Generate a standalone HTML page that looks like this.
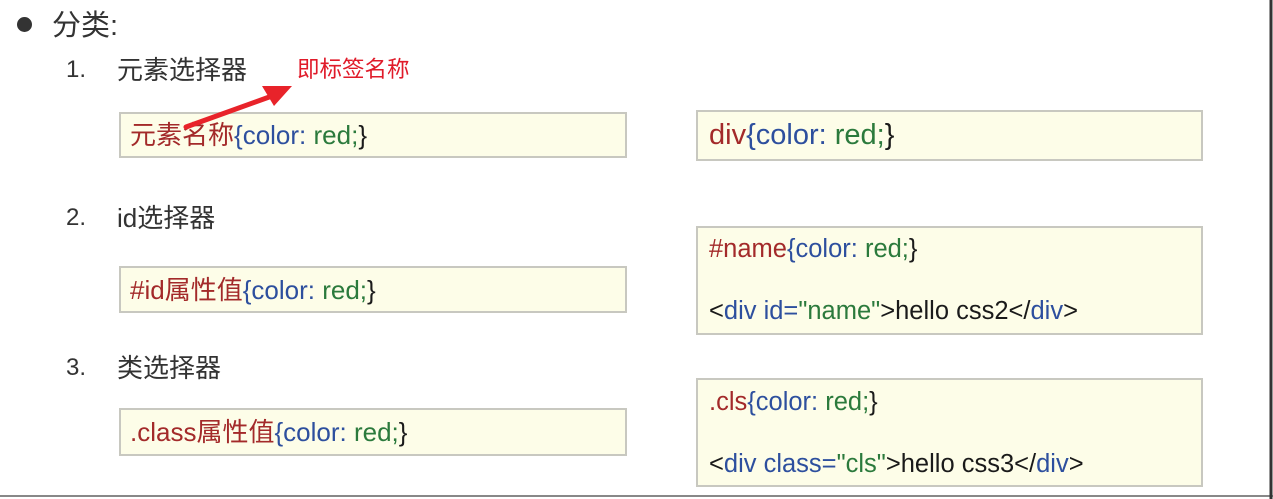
<!DOCTYPE html>
<html><head><meta charset="utf-8"><style>
body{margin:0;width:1273px;height:499px;background:#fff;position:relative;overflow:hidden;font-family:"Liberation Sans","Noto Sans CJK SC",sans-serif;color:#222}
.a{position:absolute;white-space:nowrap;line-height:1}
.box{position:absolute;background:#fdfde8;border:2px solid #c8c8c0;box-sizing:border-box}
.r{color:#a32a2a}.b{color:#2d4f9e}.g{color:#2b7a3c}.k{color:#1a1a1a}
.t{font-size:26px}
</style></head><body>
<div class="a" style="left:17px;top:17px;width:15px;height:15px;border-radius:50%;background:#333"></div>
<div class="a" style="left:52px;top:12px;font-size:29px;color:#333">分类:</div>
<div class="a" style="left:66px;top:58px;font-size:24px;color:#333">1.</div>
<div class="a" style="left:117px;top:57px;font-size:26px;color:#333">元素选择器</div>
<div class="a" style="left:297px;top:59px;font-size:22.5px;color:#e01b2a">即标签名称</div>
<div class="a" style="left:66px;top:206px;font-size:24px;color:#333">2.</div>
<div class="a" style="left:117px;top:205px;font-size:26px;color:#333">id选择器</div>
<div class="a" style="left:66px;top:356px;font-size:24px;color:#333">3.</div>
<div class="a" style="left:117px;top:355px;font-size:26px;color:#333">类选择器</div>

<div class="box" style="left:119px;top:112px;width:508px;height:46px"></div>
<div class="a t" style="left:130px;top:122px"><span class="r">元素名称</span><span class="b">{color:</span> <span class="g">red;</span><span class="k">}</span></div>
<div class="box" style="left:119px;top:266px;width:508px;height:47px"></div>
<div class="a t" style="left:130px;top:277px"><span class="r">#id属性值</span><span class="b">{color:</span> <span class="g">red;</span><span class="k">}</span></div>
<div class="box" style="left:119px;top:408px;width:508px;height:48px"></div>
<div class="a t" style="left:130px;top:419px"><span class="r">.class属性值</span><span class="b">{color:</span> <span class="g">red;</span><span class="k">}</span></div>

<div class="box" style="left:696px;top:110px;width:507px;height:51px"></div>
<div class="a" style="left:709px;top:121px;font-size:29px"><span class="r">div</span><span class="b">{color:</span> <span class="g">red;</span><span class="k">}</span></div>
<div class="box" style="left:696px;top:226px;width:507px;height:109px"></div>
<div class="a" style="left:709px;top:237px;font-size:25.5px"><span class="r">#name</span><span class="b">{color:</span> <span class="g">red;</span><span class="k">}</span></div>
<div class="a" style="left:709px;top:299px;font-size:25.5px"><span class="k">&lt;</span><span class="b">div id=</span><span class="g">"name"</span><span class="k">&gt;hello css2&lt;/</span><span class="b">div</span><span class="k">&gt;</span></div>
<div class="box" style="left:696px;top:378px;width:507px;height:109px"></div>
<div class="a" style="left:709px;top:390px;font-size:25.5px"><span class="r">.cls</span><span class="b">{color:</span> <span class="g">red;</span><span class="k">}</span></div>
<div class="a" style="left:709px;top:452px;font-size:25.5px"><span class="k">&lt;</span><span class="b">div class=</span><span class="g">"cls"</span><span class="k">&gt;hello css3&lt;/</span><span class="b">div</span><span class="k">&gt;</span></div>

<svg class="a" style="left:0;top:0" width="1273" height="499">
<line x1="186" y1="127" x2="272" y2="96" stroke="#e8232a" stroke-width="5" stroke-linecap="round"/>
<polygon points="292,86 262,86 274,106" fill="#e8232a"/>
<line x1="0" y1="496" x2="1273" y2="496" stroke="#888" stroke-width="2"/>
<line x1="1271" y1="0" x2="1271" y2="499" stroke="#333" stroke-width="3"/>
</svg>
</body></html>
